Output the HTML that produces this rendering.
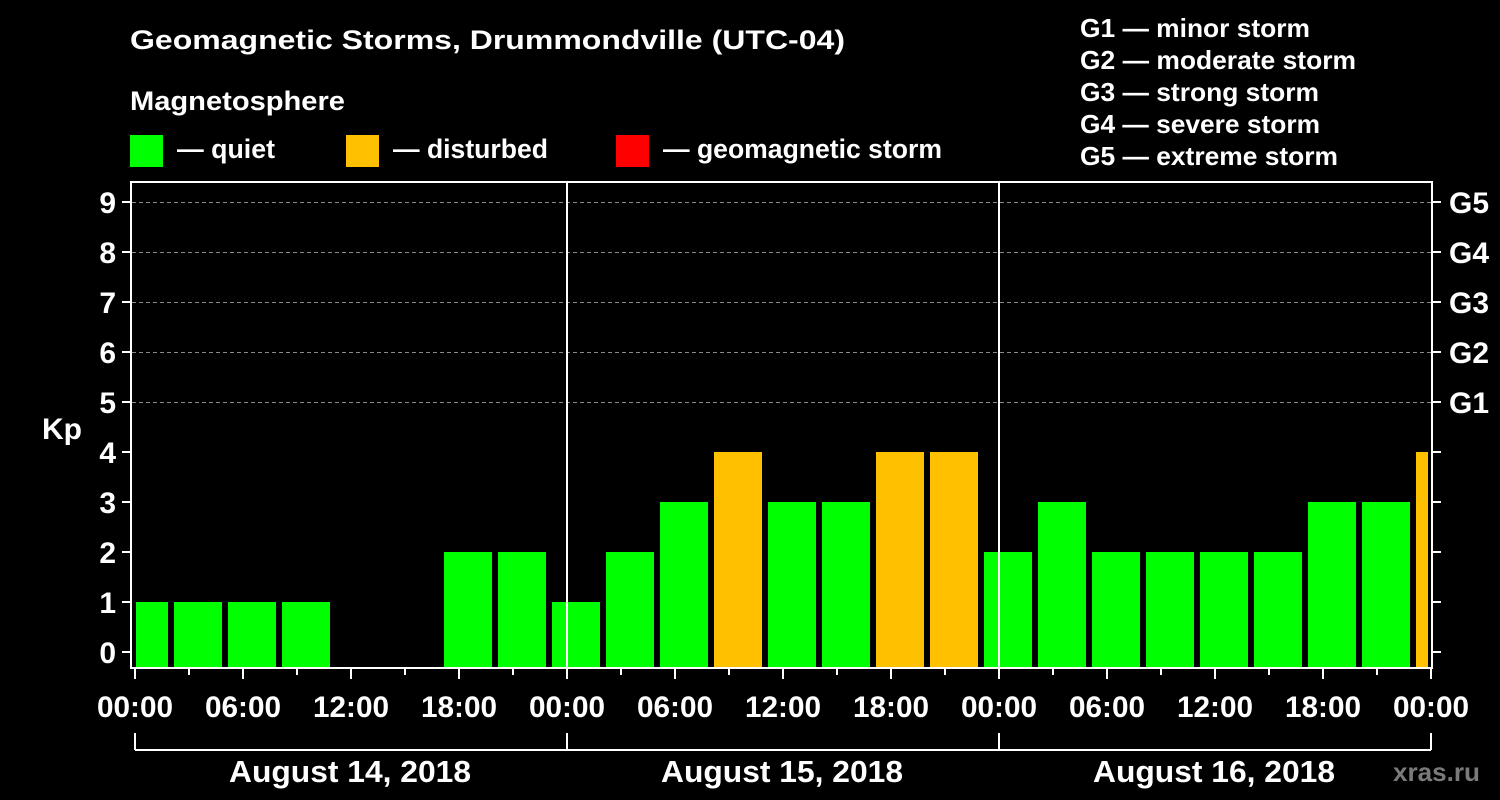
<!DOCTYPE html>
<html><head><style>body{margin:0;background:#000}svg{display:block}text{font-family:"Liberation Sans",Arial,sans-serif;font-weight:bold;fill:#fff}</style></head><body>
<svg width="1500" height="800" viewBox="0 0 1500 800" xmlns="http://www.w3.org/2000/svg">
<rect width="1500" height="800" fill="#000"/>
<text x="130" y="49" font-size="27" textLength="715" lengthAdjust="spacingAndGlyphs">Geomagnetic Storms, Drummondville (UTC-04)</text>
<text x="130" y="110" font-size="27" textLength="215" lengthAdjust="spacingAndGlyphs">Magnetosphere</text>
<rect x="130" y="135" width="33" height="32" fill="#00ff00"/>
<text x="177" y="158" font-size="27" textLength="98" lengthAdjust="spacingAndGlyphs">— quiet</text>
<rect x="346" y="135" width="33" height="32" fill="#ffc000"/>
<text x="393" y="158" font-size="27" textLength="155" lengthAdjust="spacingAndGlyphs">— disturbed</text>
<rect x="616" y="135" width="33" height="32" fill="#ff0000"/>
<text x="663" y="158" font-size="27" textLength="279" lengthAdjust="spacingAndGlyphs">— geomagnetic storm</text>
<g font-size="26">
<text x="1080" y="37" textLength="230" lengthAdjust="spacingAndGlyphs">G1 — minor storm</text>
<text x="1080" y="69" textLength="276" lengthAdjust="spacingAndGlyphs">G2 — moderate storm</text>
<text x="1080" y="101" textLength="239" lengthAdjust="spacingAndGlyphs">G3 — strong storm</text>
<text x="1080" y="133" textLength="240" lengthAdjust="spacingAndGlyphs">G4 — severe storm</text>
<text x="1080" y="165" textLength="258" lengthAdjust="spacingAndGlyphs">G5 — extreme storm</text>
</g>
<g stroke="#888" stroke-width="1" stroke-dasharray="4,3">
<line x1="132" y1="402.5" x2="1431" y2="402.5"/><line x1="132" y1="352.5" x2="1431" y2="352.5"/><line x1="132" y1="302.5" x2="1431" y2="302.5"/><line x1="132" y1="252.5" x2="1431" y2="252.5"/><line x1="132" y1="202.5" x2="1431" y2="202.5"/>
</g>
<g id="bars"></g>
<g stroke="#fff" stroke-width="2" fill="none">
<rect x="131" y="182" width="1301" height="486"/>
<line x1="567" y1="182" x2="567" y2="668"/><line x1="999" y1="182" x2="999" y2="668"/>
<line x1="135" y1="750" x2="1431" y2="750"/>
<line x1="135" y1="733" x2="135" y2="750"/><line x1="567" y1="733" x2="567" y2="750"/><line x1="999" y1="733" x2="999" y2="750"/><line x1="1431" y1="733" x2="1431" y2="750"/>
</g>
<g id="ticks" stroke="#fff" stroke-width="2"></g>
<g font-size="30" text-anchor="end" id="yl"></g>
<g font-size="30" id="gl"><text x="1449" y="213">G5</text><text x="1449" y="263">G4</text><text x="1449" y="313">G3</text><text x="1449" y="363">G2</text><text x="1449" y="413">G1</text></g>
<text x="42" y="439" font-size="30">Kp</text>
<g font-size="30" text-anchor="middle" id="xl"></g>
<text x="350" y="782" font-size="31" text-anchor="middle" textLength="242" lengthAdjust="spacingAndGlyphs">August 14, 2018</text>
<text x="782" y="782" font-size="31" text-anchor="middle" textLength="242" lengthAdjust="spacingAndGlyphs">August 15, 2018</text>
<text x="1214" y="782" font-size="31" text-anchor="middle" textLength="242" lengthAdjust="spacingAndGlyphs">August 16, 2018</text>
<text x="1393" y="781" font-size="26" style="fill:#7a7a7a" textLength="87" lengthAdjust="spacingAndGlyphs">xras.ru</text>
<script>
var ns="http://www.w3.org/2000/svg";
function el(p,t,a,txt){var e=document.createElementNS(ns,t);for(var k in a)e.setAttribute(k,a[k]);if(txt!=null)e.textContent=txt;document.getElementById(p).appendChild(e);}
var v=[1,1,1,1,0,0,2,2,1,2,3,4,3,3,4,4,2,3,2,2,2,2,3,3,4];
v.forEach(function(k,i){if(!k)return;var x0=Math.max(136,120+54*i),x1=Math.min(1428,168+54*i);
el("bars","rect",{x:x0,y:652-50*k,width:x1-x0,height:668-(652-50*k),fill:k>=4?"#ffc000":"#00ff00"});});
for(var k=0;k<=9;k++){var y=652-50*k;el("ticks","line",{x1:122,y1:y,x2:131,y2:y});el("ticks","line",{x1:1432,y1:y,x2:1441,y2:y});el("yl","text",{x:116,y:y+11},k);}
var lab=["00:00","06:00","12:00","18:00"];
for(var i=0;i<=24;i++){var x=135+54*i;el("ticks","line",{x1:x,y1:669,x2:x,y2:i%2?675:679});
if(i%2==0)el("xl","text",{x:x,y:717,textLength:76,lengthAdjust:"spacingAndGlyphs"},lab[(i/2)%4]);}
</script>
</svg>
</body></html>
